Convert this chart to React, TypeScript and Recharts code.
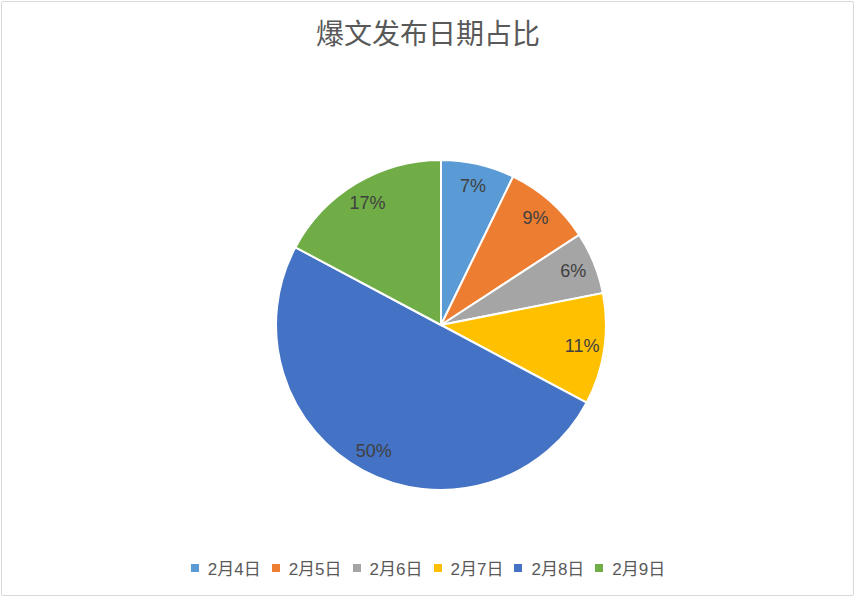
import { PieChart, Pie, Cell, Legend } from 'recharts'

const categories = ['2月4日', '2月5日', '2月6日', '2月7日', '2月8日', '2月9日']
const shares = [7.2, 8.6, 6.1, 10.9, 50.0, 17.2]
const colors = ['#5B9BD5', '#ED7D31', '#A5A5A5', '#FFC000', '#4472C4', '#70AD47']

const data = categories.map((name, i) => ({ name, value: shares[i] }))

const FONT = "'Liberation Sans', 'Noto Sans CJK SC', sans-serif"
const RAD = Math.PI / 180

// label inside the slice, near the rim
const renderLabel = ({ cx, cy, midAngle, outerRadius, percent }: any) => {
  const r = outerRadius * 0.865
  const x = cx + r * Math.cos(-midAngle * RAD)
  const y = cy + r * Math.sin(-midAngle * RAD)
  return (
    <text x={x} y={y} fill="#404040" fontSize={18} fontFamily={FONT}
      textAnchor="middle" dominantBaseline="central">
      {`${Math.round(percent * 100)}%`}
    </text>
  )
}

const LegendContent = ({ payload }: any) => (
  <div style={{ display: 'flex', justifyContent: 'center', fontFamily: FONT, fontSize: 17, color: '#595959' }}>
    {(payload ?? []).map((p: any) => (
      <div key={p.value} style={{ display: 'flex', alignItems: 'center', margin: '0 5.5px' }}>
        <span style={{ width: 8, height: 8, background: p.color, marginRight: 9, display: 'inline-block' }} />
        <span>{p.value}</span>
      </div>
    ))}
  </div>
)

export default function App() {
  return (
    <div style={{ position: 'absolute', left: 0, top: 0, width: 856, height: 598, background: '#fff' }}>
      <div style={{
        position: 'absolute', left: 1, top: 1, width: 851, height: 593,
        border: '1px solid #d9d9d9', borderRadius: 2,
      }} />
      <div style={{
        position: 'absolute', left: 0, top: 15, width: 856, textAlign: 'center',
        fontSize: 28, color: '#595959', fontFamily: FONT, lineHeight: '40px',
      }}>
        爆文发布日期占比
      </div>
      <div style={{ position: 'absolute', left: 0, top: 0 }}>
        <PieChart width={856} height={598} margin={{ top: 0, right: 0, bottom: 0, left: 0 }}>
          <Pie
            data={data}
            dataKey="value"
            nameKey="name"
            cx={441}
            cy={325}
            outerRadius={165}
            startAngle={90}
            endAngle={-270}
            stroke="#fff"
            strokeWidth={2}
            label={renderLabel}
            labelLine={false}
            isAnimationActive={false}
          >
            {data.map((d, i) => <Cell key={d.name} fill={colors[i]} />)}
          </Pie>
          <Legend
            verticalAlign="bottom"
            align="center"
            content={<LegendContent />}
            wrapperStyle={{ top: 555, bottom: 'auto', left: 0, width: 856, height: 24 }}
          />
        </PieChart>
      </div>
    </div>
  )
}
